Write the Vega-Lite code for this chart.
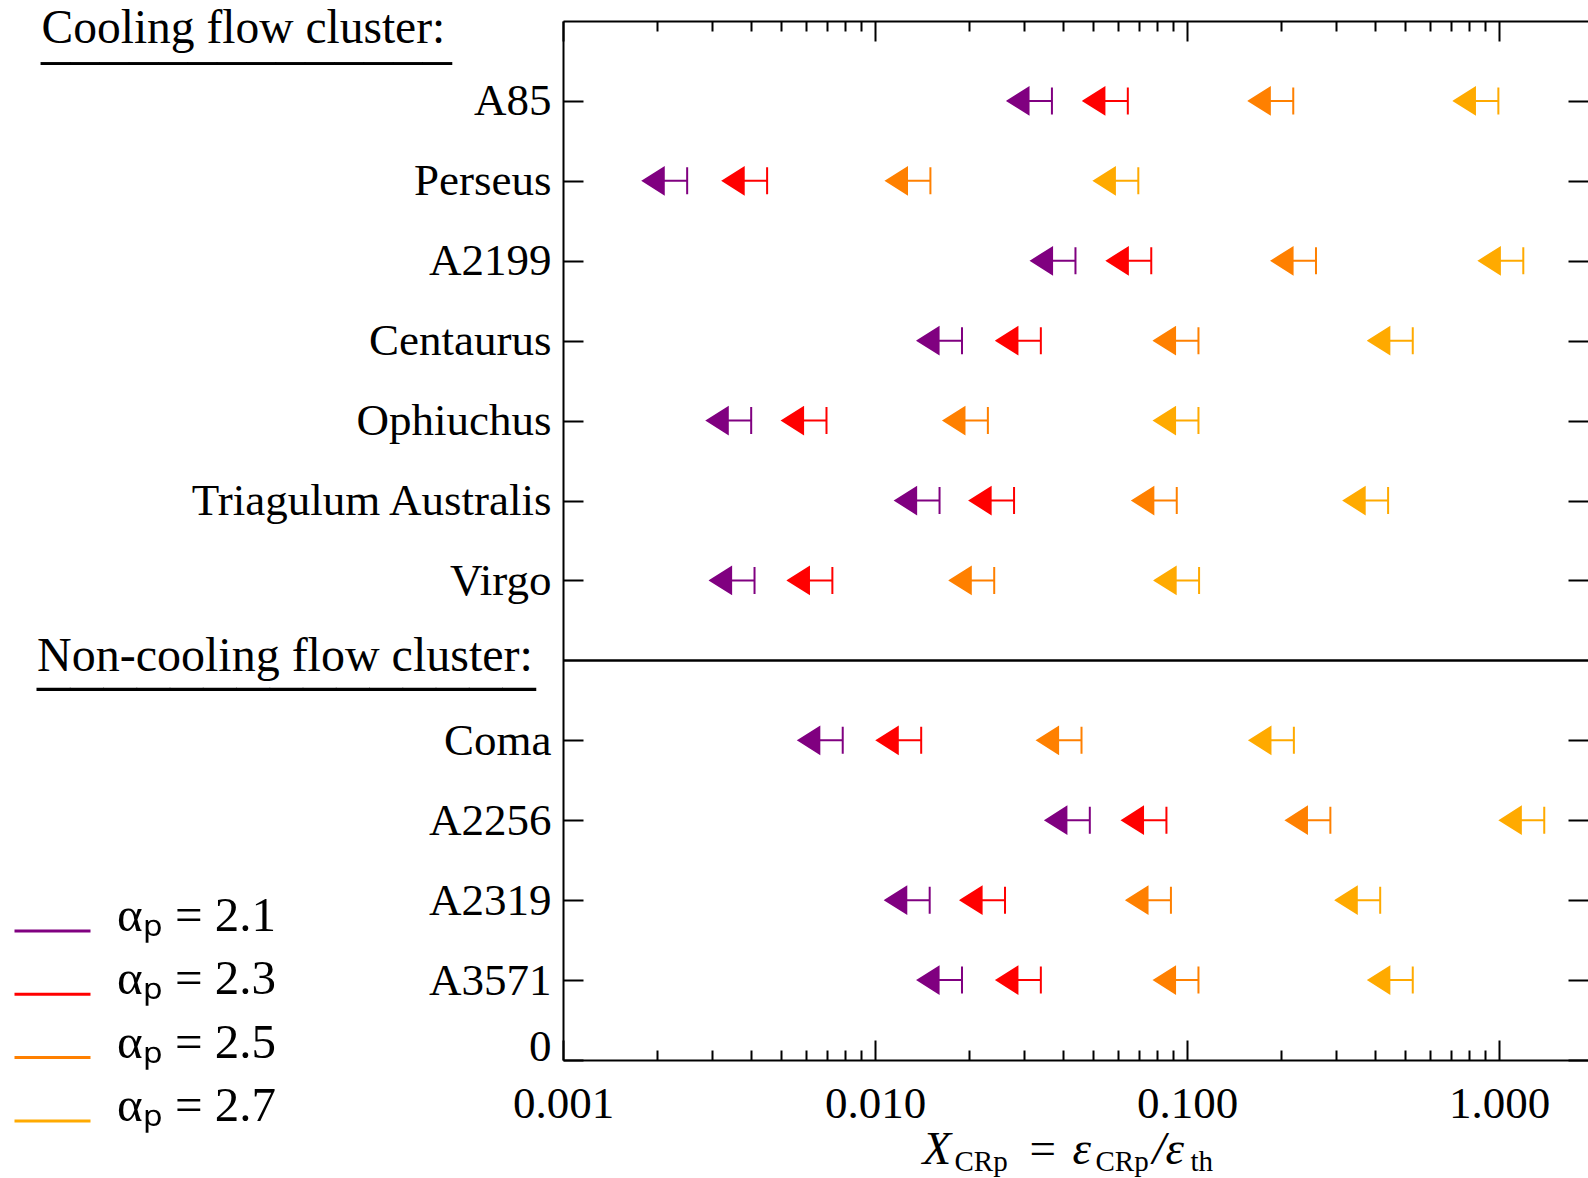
{
  "$schema": "https://vega.github.io/schema/vega-lite/v6.json",
  "width": 1025,
  "height": 1039,
  "autosize": {"type": "none"},
  "padding": {"left": 563, "top": 21, "right": 0, "bottom": 118},
  "data": {"values": [
    {"cluster": "A85", "row": 12, "alpha": "2.1", "xcrp": 0.0369},
    {"cluster": "A85", "row": 12, "alpha": "2.3", "xcrp": 0.0646},
    {"cluster": "A85", "row": 12, "alpha": "2.5", "xcrp": 0.219},
    {"cluster": "A85", "row": 12, "alpha": "2.7", "xcrp": 0.995},
    {"cluster": "Perseus", "row": 11, "alpha": "2.1", "xcrp": 0.0025},
    {"cluster": "Perseus", "row": 11, "alpha": "2.3", "xcrp": 0.00451},
    {"cluster": "Perseus", "row": 11, "alpha": "2.5", "xcrp": 0.01505},
    {"cluster": "Perseus", "row": 11, "alpha": "2.7", "xcrp": 0.0698},
    {"cluster": "A2199", "row": 10, "alpha": "2.1", "xcrp": 0.0439},
    {"cluster": "A2199", "row": 10, "alpha": "2.3", "xcrp": 0.0768},
    {"cluster": "A2199", "row": 10, "alpha": "2.5", "xcrp": 0.259},
    {"cluster": "A2199", "row": 10, "alpha": "2.7", "xcrp": 1.196},
    {"cluster": "Centaurus", "row": 9, "alpha": "2.1", "xcrp": 0.019},
    {"cluster": "Centaurus", "row": 9, "alpha": "2.3", "xcrp": 0.034},
    {"cluster": "Centaurus", "row": 9, "alpha": "2.5", "xcrp": 0.1088},
    {"cluster": "Centaurus", "row": 9, "alpha": "2.7", "xcrp": 0.529},
    {"cluster": "Ophiuchus", "row": 8, "alpha": "2.1", "xcrp": 0.00401},
    {"cluster": "Ophiuchus", "row": 8, "alpha": "2.3", "xcrp": 0.00699},
    {"cluster": "Ophiuchus", "row": 8, "alpha": "2.5", "xcrp": 0.023},
    {"cluster": "Ophiuchus", "row": 8, "alpha": "2.7", "xcrp": 0.1088},
    {"cluster": "Triagulum Australis", "row": 7, "alpha": "2.1", "xcrp": 0.0161},
    {"cluster": "Triagulum Australis", "row": 7, "alpha": "2.3", "xcrp": 0.0279},
    {"cluster": "Triagulum Australis", "row": 7, "alpha": "2.5", "xcrp": 0.0927},
    {"cluster": "Triagulum Australis", "row": 7, "alpha": "2.7", "xcrp": 0.441},
    {"cluster": "Virgo", "row": 6, "alpha": "2.1", "xcrp": 0.00411},
    {"cluster": "Virgo", "row": 6, "alpha": "2.3", "xcrp": 0.0073},
    {"cluster": "Virgo", "row": 6, "alpha": "2.5", "xcrp": 0.0241},
    {"cluster": "Virgo", "row": 6, "alpha": "2.7", "xcrp": 0.1093},
    {"cluster": "Coma", "row": 4, "alpha": "2.1", "xcrp": 0.00788},
    {"cluster": "Coma", "row": 4, "alpha": "2.3", "xcrp": 0.01406},
    {"cluster": "Coma", "row": 4, "alpha": "2.5", "xcrp": 0.0459},
    {"cluster": "Coma", "row": 4, "alpha": "2.7", "xcrp": 0.22},
    {"cluster": "A2256", "row": 3, "alpha": "2.1", "xcrp": 0.0488},
    {"cluster": "A2256", "row": 3, "alpha": "2.3", "xcrp": 0.0859},
    {"cluster": "A2256", "row": 3, "alpha": "2.5", "xcrp": 0.288},
    {"cluster": "A2256", "row": 3, "alpha": "2.7", "xcrp": 1.396},
    {"cluster": "A2319", "row": 2, "alpha": "2.1", "xcrp": 0.01497},
    {"cluster": "A2319", "row": 2, "alpha": "2.3", "xcrp": 0.0261},
    {"cluster": "A2319", "row": 2, "alpha": "2.5", "xcrp": 0.0888},
    {"cluster": "A2319", "row": 2, "alpha": "2.7", "xcrp": 0.416},
    {"cluster": "A3571", "row": 1, "alpha": "2.1", "xcrp": 0.019},
    {"cluster": "A3571", "row": 1, "alpha": "2.3", "xcrp": 0.034},
    {"cluster": "A3571", "row": 1, "alpha": "2.5", "xcrp": 0.1088},
    {"cluster": "A3571", "row": 1, "alpha": "2.7", "xcrp": 0.529}
  ]},
  "config": {
    "font": "Liberation Serif",
    "view": {"stroke": null},
    "axis": {
      "grid": false,
      "domainColor": "black",
      "tickColor": "black",
      "labelColor": "black",
      "titleColor": "black",
      "domainWidth": 2,
      "tickWidth": 2,
      "labelFont": "Liberation Serif",
      "titleFont": "Liberation Serif",
      "titleFontWeight": "normal",
      "labelFontSize": 45,
      "labelOverlap": false,
      "labelLimit": 1000,
      "titleLimit": 3000,
      "titlePadding": 0
    },
    "legend": {
      "orient": "none",
      "legendX": -550,
      "legendY": 878.5,
      "symbolType": "stroke",
      "symbolSize": 5776,
      "symbolStrokeWidth": 3,
      "labelFont": "Liberation Serif",
      "labelFontSize": 49,
      "labelBaseline": "alphabetic",
      "labelColor": "black",
      "labelOffset": 25,
      "labelLimit": 1000,
      "clipHeight": 63,
      "rowPadding": -7.7,
      "padding": 0,
      "symbolOpacity": 1
    }
  },
  "resolve": {
    "scale": {"x": "shared", "y": "shared"},
    "axis": {"x": "independent", "y": "independent"}
  },
  "layer": [
    {
      "mark": {
        "type": "point",
        "shape": "M-0.98,0L-0.52,-0.29L-0.52,0.29ZM-0.52,0L0,0M0,-0.3L0,0.3",
        "size": 8100,
        "strokeWidth": 2,
        "opacity": 1,
        "fillOpacity": 1,
        "filled": true
      },
      "encoding": {
        "x": {
          "field": "xcrp", "type": "quantitative",
          "scale": {"type": "log", "domain": [0.001, 1.928], "nice": false},
          "axis": {
            "orient": "bottom", "values": [0.001, 0.01, 0.1, 1], "format": ".3f",
            "tickSize": -20, "labelPadding": 41.5, "labelFlush": false, "labelFontSize": 45,
            "domain": true,
            "title": "X", "titleX": 359, "titleY": 103, "titleAngle": 0, "titleAlign": "left",
            "titleBaseline": "alphabetic", "titleFontSize": 47, "titleFontStyle": "italic"
          }
        },
        "y": {
          "field": "row", "type": "quantitative",
          "scale": {"domain": [0, 13], "nice": false, "zero": false},
          "axis": {
            "orient": "left", "values": [0, 1, 2, 3, 4, 6, 7, 8, 9, 10, 11, 12],
            "labelExpr": "['0','A3571','A2319','A2256','Coma','','Virgo','Triagulum Australis','Ophiuchus','Centaurus','A2199','Perseus','A85'][datum.value]",
            "tickSize": -20, "labelPadding": 32, "labelFlush": true, "labelFlushOffset": 9,
            "labelFontSize": 45, "labelLimit": 1000, "domain": true,
            "title": "Cooling flow cluster:", "titleX": -522, "titleY": 21.5, "titleAngle": 0,
            "titleAlign": "left", "titleBaseline": "alphabetic", "titleFontSize": 47.5
          }
        },
        "fill": {
          "field": "alpha", "type": "nominal",
          "scale": {"domain": ["2.1", "2.3", "2.5", "2.7"], "range": ["#800080", "#ff0000", "#ff8000", "#ffaa00"]},
          "legend": {"title": null, "labelExpr": "'αₚ = ' + datum.label"}
        },
        "stroke": {
          "field": "alpha", "type": "nominal",
          "scale": {"domain": ["2.1", "2.3", "2.5", "2.7"], "range": ["#800080", "#ff0000", "#ff8000", "#ffaa00"]},
          "legend": {"title": null, "labelExpr": "'αₚ = ' + datum.label"}
        }
      }
    },
    {
      "mark": {"type": "point", "opacity": 0},
      "encoding": {
        "x": {
          "field": "xcrp", "type": "quantitative",
          "axis": {
            "orient": "bottom",
            "values": [0.002, 0.003, 0.004, 0.005, 0.006, 0.007, 0.008, 0.009, 0.02, 0.03, 0.04, 0.05, 0.06, 0.07, 0.08, 0.09, 0.2, 0.3, 0.4, 0.5, 0.6, 0.7, 0.8, 0.9],
            "tickSize": -10, "labels": false, "domain": false,
            "title": "CRp", "titleX": 391, "titleY": 110, "titleAngle": 0, "titleAlign": "left",
            "titleBaseline": "alphabetic", "titleFontSize": 29
          }
        },
        "y": {
          "field": "row", "type": "quantitative",
          "axis": {
            "orient": "right", "values": [0, 1, 2, 3, 4, 6, 7, 8, 9, 10, 11, 12],
            "tickSize": -20, "labels": false, "domain": false,
            "title": "Non-cooling flow cluster:", "titleX": -1551.5, "titleY": 649, "titleAngle": 0,
            "titleAlign": "left", "titleBaseline": "alphabetic", "titleFontSize": 48
          }
        }
      }
    },
    {
      "mark": {"type": "point", "opacity": 0},
      "encoding": {
        "x": {
          "field": "xcrp", "type": "quantitative",
          "axis": {
            "orient": "top", "values": [0.001, 0.01, 0.1, 1],
            "tickSize": -20, "labels": false, "domain": true,
            "title": "=", "titleX": 466, "titleY": 1142, "titleAngle": 0, "titleAlign": "left",
            "titleBaseline": "alphabetic", "titleFontSize": 47
          }
        },
        "y": {
          "field": "row", "type": "quantitative",
          "axis": {
            "orient": "left", "ticks": false, "labels": false, "domain": false,
            "title": "______________", "titleX": -522.5, "titleY": 35, "titleAngle": 0,
            "titleAlign": "left", "titleBaseline": "alphabetic", "titleFontSize": 58.7
          }
        }
      }
    },
    {
      "mark": {"type": "point", "opacity": 0},
      "encoding": {
        "x": {
          "field": "xcrp", "type": "quantitative",
          "axis": {
            "orient": "top",
            "values": [0.002, 0.003, 0.004, 0.005, 0.006, 0.007, 0.008, 0.009, 0.02, 0.03, 0.04, 0.05, 0.06, 0.07, 0.08, 0.09, 0.2, 0.3, 0.4, 0.5, 0.6, 0.7, 0.8, 0.9],
            "tickSize": -10, "labels": false, "domain": false,
            "title": "ε", "titleX": 509, "titleY": 1142, "titleAngle": 0, "titleAlign": "left",
            "titleBaseline": "alphabetic", "titleFontSize": 47, "titleFontStyle": "italic"
          }
        },
        "y": {
          "field": "row", "type": "quantitative",
          "axis": {
            "orient": "left", "ticks": false, "labels": false, "domain": false,
            "title": "_______________", "titleX": -526.5, "titleY": 661, "titleAngle": 0,
            "titleAlign": "left", "titleBaseline": "alphabetic", "titleFontSize": 66.5
          }
        }
      }
    },
    {
      "mark": {"type": "point", "opacity": 0},
      "encoding": {
        "x": {
          "field": "xcrp", "type": "quantitative",
          "axis": {
            "orient": "bottom", "ticks": false, "labels": false, "domain": false,
            "title": "CRp", "titleX": 532, "titleY": 110, "titleAngle": 0, "titleAlign": "left",
            "titleBaseline": "alphabetic", "titleFontSize": 29
          }
        },
        "y": {
          "field": "row", "type": "quantitative",
          "axis": {
            "orient": "left", "ticks": false, "labels": false, "domain": false,
            "title": "/ε", "titleX": 589, "titleY": 1142, "titleAngle": 0,
            "titleAlign": "left", "titleBaseline": "alphabetic", "titleFontSize": 47, "titleFontStyle": "italic"
          }
        }
      }
    },
    {
      "mark": {"type": "point", "opacity": 0},
      "encoding": {
        "x": {
          "field": "xcrp", "type": "quantitative",
          "axis": {
            "orient": "bottom", "ticks": false, "labels": false, "domain": false,
            "title": "th", "titleX": 627, "titleY": 110, "titleAngle": 0, "titleAlign": "left",
            "titleBaseline": "alphabetic", "titleFontSize": 29
          }
        },
        "y": {"field": "row", "type": "quantitative", "axis": null}
      }
    },
    {
      "data": {"values": [{"boundary": 5}]},
      "mark": {"type": "rule", "color": "black", "strokeWidth": 2.5},
      "encoding": {
        "y": {"field": "boundary", "type": "quantitative", "axis": null}
      }
    }
  ]
}
